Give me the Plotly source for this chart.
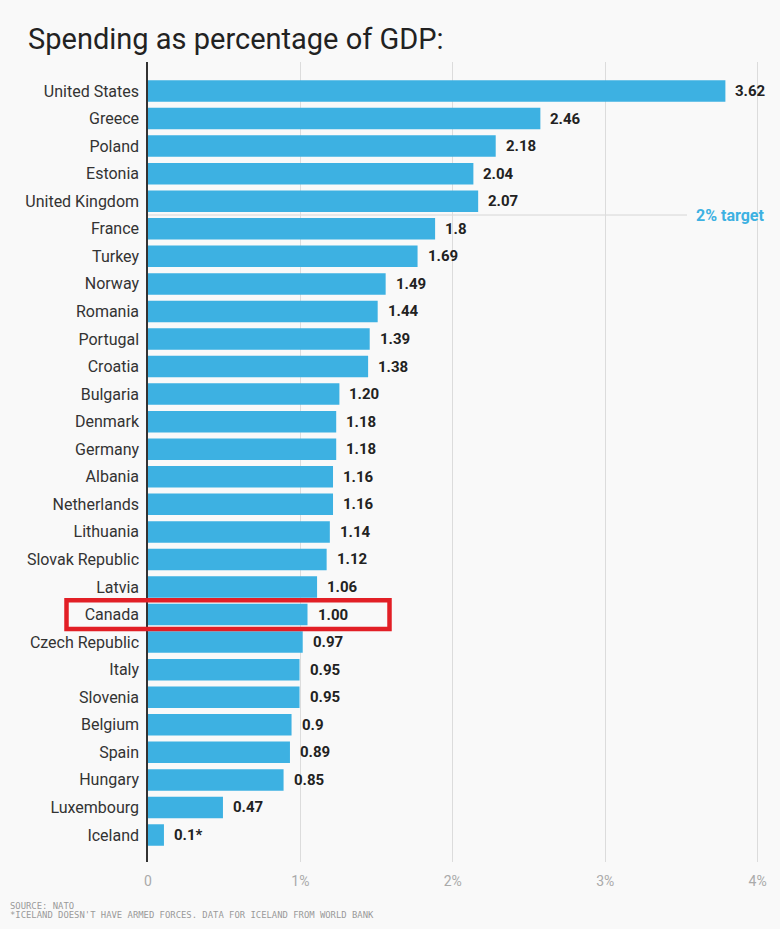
import plotly.graph_objects as go

countries = ["United States", "Greece", "Poland", "Estonia", "United Kingdom", "France",
             "Turkey", "Norway", "Romania", "Portugal", "Croatia", "Bulgaria", "Denmark",
             "Germany", "Albania", "Netherlands", "Lithuania", "Slovak Republic", "Latvia",
             "Canada", "Czech Republic", "Italy", "Slovenia", "Belgium", "Spain", "Hungary",
             "Luxembourg", "Iceland"]
spending = [3.62, 2.46, 2.18, 2.04, 2.07, 1.8, 1.69, 1.49, 1.44, 1.39, 1.38, 1.20, 1.18,
            1.18, 1.16, 1.16, 1.14, 1.12, 1.06, 1.00, 0.97, 0.95, 0.95, 0.9, 0.89, 0.85,
            0.47, 0.1]
value_labels = ["3.62", "2.46", "2.18", "2.04", "2.07", "1.8", "1.69", "1.49", "1.44",
                "1.39", "1.38", "1.20", "1.18", "1.18", "1.16", "1.16", "1.14", "1.12",
                "1.06", "1.00", "0.97", "0.95", "0.95", "0.9", "0.89", "0.85", "0.47", "0.1*"]
tick_vals = [0, 1, 2, 3, 4]
tick_text = ["0", "1%", "2%", "3%", "4%"]
highlight = "Canada"
target_after = "United Kingdom"

W, H = 780, 929
L, R, T, B = 148, 0, 62, 67
pw, ph = W - L - R, H - T - B

BLUE = "#3db1e2"
BG = "#f9f9f9"


def px_x(p):
    return (p - L) / pw


def px_y(p):
    return (H - B - p) / ph


fig = go.Figure()
# invisible trace so the gridded x axis gets drawn
fig.add_trace(go.Scatter(x=tick_vals, y=[countries[0]] * len(tick_vals), mode="markers",
                         marker=dict(opacity=0), hoverinfo="skip", showlegend=False))
fig.add_trace(go.Bar(
    x=spending, y=countries, orientation="h", xaxis="x2",
    marker=dict(color=BLUE, line=dict(width=0)), width=0.78,
    hoverinfo="x+y",
))

# value labels to the right of every bar
for c, v, t in zip(countries, spending, value_labels):
    fig.add_annotation(x=v, y=c, xref="x2", yref="y", text=t, showarrow=False,
                       xanchor="left", xshift=8,
                       font=dict(family="Roboto", size=15, color="#222", weight="bold"))

ti = countries.index(target_after) + 0.5
fig.add_shape(type="line", xref="paper", yref="y", x0=0, x1=px_x(687), y0=ti, y1=ti,
              line=dict(color="#d6d6d6", width=1), layer="below")
fig.add_annotation(xref="paper", yref="y", x=px_x(694), y=ti, text="2% target",
                   showarrow=False, xanchor="left", yanchor="middle",
                   font=dict(family="Roboto", size=16, color=BLUE, weight="bold"))

hi = countries.index(highlight)
fig.add_shape(type="rect", xref="paper", yref="y", x0=px_x(66.5), x1=px_x(389.5),
              y0=hi - 0.52, y1=hi + 0.52, line=dict(color="#e21f26", width=4.5),
              fillcolor="rgba(0,0,0,0)", layer="above")

fig.add_annotation(xref="paper", yref="paper", x=px_x(8), y=px_y(906), text="SOURCE: NATO",
                   showarrow=False, xanchor="left", yanchor="middle",
                   font=dict(family="DejaVu Sans Mono", size=8.9, color="#999"))
fig.add_annotation(xref="paper", yref="paper", x=px_x(8), y=px_y(915),
                   text="*ICELAND DOESN'T HAVE ARMED FORCES. DATA FOR ICELAND FROM WORLD BANK",
                   showarrow=False, xanchor="left", yanchor="middle",
                   font=dict(family="DejaVu Sans Mono", size=8.9, color="#999"))

n = len(countries)
fig.update_layout(
    width=W, height=H, margin=dict(l=L, r=R, t=T, b=B),
    paper_bgcolor=BG, plot_bgcolor=BG, showlegend=False,
    title=dict(text="Spending as percentage of GDP:", x=28 / W, xanchor="left",
               y=1 - 39 / H, yanchor="middle",
               font=dict(family="Roboto", size=29, color="#222")),
    xaxis=dict(range=[0, pw / 152.4], tickvals=tick_vals, ticktext=tick_text,
               showgrid=True, gridcolor="#dcdcdc", gridwidth=1, zeroline=False,
               showline=False, ticks="outside", ticklen=6, tickcolor="rgba(0,0,0,0)",
               tickfont=dict(family="Roboto", size=14, color="#aaaaaa")),
    xaxis2=dict(range=[0, pw / 159.5], overlaying="x", visible=False),
    yaxis=dict(type="category", categoryorder="array", categoryarray=countries,
               range=[n - 1 + 27 / 27.56, -29 / 27.56], showgrid=False, zeroline=False,
               showline=True, linecolor="#333", linewidth=1.5,
               ticks="outside", ticklen=4, tickcolor="rgba(0,0,0,0)",
               tickfont=dict(family="Roboto", size=16, color="#333")),
    bargap=0.22,
)

fig.write_html("out.html", config={"displayModeBar": False},
               post_script="document.body.style.margin='0';"
                           "document.body.style.background='%s';" % BG)
